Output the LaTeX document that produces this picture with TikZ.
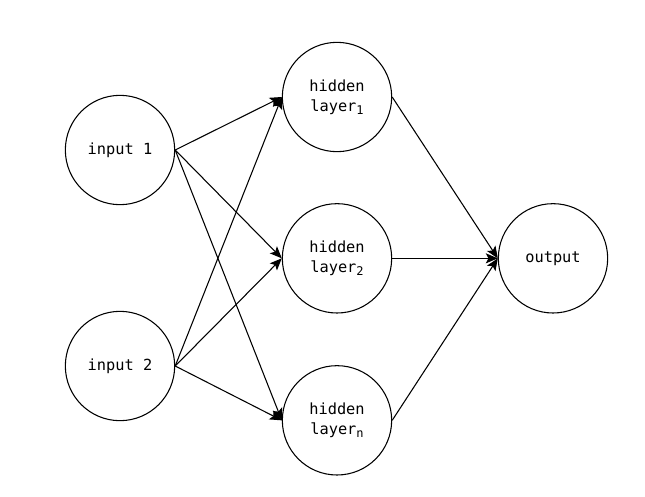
\documentclass[tikz,border=0pt]{standalone}
\usepackage{fontspec}
\setmonofont{DejaVu Sans Mono}
\usepackage{tikz}
\usetikzlibrary{arrows.meta, positioning}
\newcommand{\lsub}[1]{\raisebox{-0.35ex}{\fontsize{9}{9}\selectfont #1}}
\tikzstyle{neuron} = [circle, draw=black, line width=0.8pt, minimum size=82pt, inner sep=0pt, align=center, font=\ttfamily\fontsize{11.5}{15}\selectfont]
\tikzstyle{arrow} = [line width=0.8pt, -{Stealth[length=9pt, width=7.5pt, inset=2pt]}]

\begin{document}
\begin{tikzpicture}[x=0.75pt, y=-0.75pt, node distance=162pt]
        \useasboundingbox (0,0) rectangle (645,496);
        \node (in1) [neuron] at (120,150) {input 1};
        \node (in2) [neuron, below of=in1] {input 2};
        \node (h1) [neuron] at (337,97) {hidden\\layer\lsub{1}};
        \node (h2) [neuron, below of=h1, node distance=121pt] {hidden\\layer\lsub{2}};
        \node (hn) [neuron, below of=h2, node distance=121.5pt] {hidden\\layer\lsub{n}};
        \node (out) [neuron, right of=h2, node distance=162pt] {output};

        % inputs to hidden layers
        \foreach \i in {in1, in2}
            \foreach \h in {h1, h2, hn}
                \draw [arrow] (\i.east) -- (\h.west);

        % hidden layers to output
        \foreach \h in {h1, h2, hn}
            \draw [arrow] (\h.east) -- (out.west);
    \end{tikzpicture}
\end{document}
